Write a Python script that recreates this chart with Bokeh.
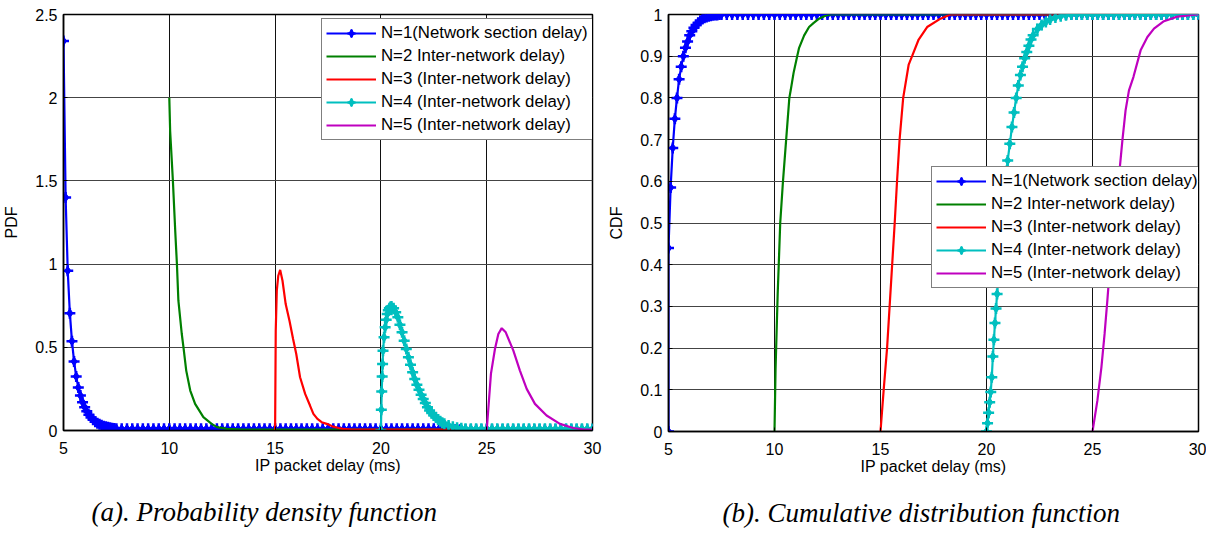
from bokeh.plotting import figure
from bokeh.models import (Legend, LegendItem, FixedTicker, CustomJSTickFormatter,
                          Title, Range1d)
from bokeh.layouts import row
from bokeh.embed import file_html
from bokeh.resources import INLINE

FONT = "Liberation Sans"
SERIF = "Liberation Serif"

# ---------------- data ----------------
x_ticks = [5, 10, 15, 20, 25, 30]
pdf_ticks = [0, 0.5, 1, 1.5, 2, 2.5]
cdf_ticks = [0, 0.1, 0.2, 0.3, 0.4, 0.5, 0.6, 0.7, 0.8, 0.9, 1]

labels = ["N=1(Network section delay)", "N=2 Inter-network delay)",
          "N=3 (Inter-network delay)", "N=4 (Inter-network delay)",
          "N=5 (Inter-network delay)"]

# N=1 : network section delay (sampled every 0.1 ms, then 0.25 ms)
n1_delay = [5.0, 5.1, 5.2, 5.3, 5.4, 5.5, 5.6, 5.7, 5.8, 5.9,
            6.0, 6.1, 6.2, 6.3, 6.4, 6.5, 6.6, 6.7, 6.8, 6.9,
            7.0, 7.1, 7.2, 7.3, 7.4, 7.5,
            7.75, 8.0, 8.25, 8.5, 8.75, 9.0, 9.25, 9.5, 9.75, 10.0,
            10.25, 10.5, 10.75, 11.0, 11.25, 11.5, 11.75, 12.0, 12.25, 12.5,
            12.75, 13.0, 13.25, 13.5, 13.75, 14.0, 14.25, 14.5, 14.75, 15.0,
            15.25, 15.5, 15.75, 16.0, 16.25, 16.5, 16.75, 17.0, 17.25, 17.5,
            17.75, 18.0, 18.25, 18.5, 18.75, 19.0, 19.25, 19.5, 19.75, 20.0,
            20.25, 20.5, 20.75, 21.0, 21.25, 21.5, 21.75, 22.0, 22.25, 22.5,
            22.75, 23.0, 23.25, 23.5, 23.75, 24.0, 24.25, 24.5, 24.75, 25.0,
            25.25, 25.5, 25.75, 26.0, 26.25, 26.5, 26.75, 27.0, 27.25, 27.5,
            27.75, 28.0, 28.25, 28.5, 28.75, 29.0, 29.25, 29.5, 29.75, 30.0]
n1_pdf = [2.34, 1.40, 0.96, 0.705, 0.537, 0.415, 0.325, 0.258, 0.21, 0.17,
          0.14, 0.115, 0.095, 0.078, 0.064, 0.053, 0.044, 0.037, 0.031, 0.026,
          0.022, 0.019, 0.016, 0.014, 0.012, 0.011,
          0.01, 0.01, 0.01, 0.01, 0.01, 0.01, 0.01, 0.01, 0.01, 0.01,
          0.01, 0.01, 0.01, 0.01, 0.01, 0.01, 0.01, 0.01, 0.01, 0.01,
          0.01, 0.01, 0.01, 0.01, 0.01, 0.01, 0.01, 0.01, 0.01, 0.01,
          0.01, 0.01, 0.01, 0.01, 0.01, 0.01, 0.01, 0.01, 0.01, 0.01,
          0.01, 0.01, 0.01, 0.01, 0.01, 0.01, 0.01, 0.01, 0.01, 0.01,
          0.01, 0.01, 0.01, 0.01, 0.01, 0.01, 0.01, 0.01, 0.01, 0.01,
          0.01, 0.01, 0.004, 0.004, 0.004, 0.004, 0.004, 0.004, 0.004, 0.004,
          0.004, 0.004, 0.004, 0.004, 0.004, 0.004, 0.004, 0.004, 0.004, 0.004,
          0.004, 0.004, 0.004, 0.004, 0.004, 0.004, 0.004, 0.004, 0.004, 0.004]
n1_cdf_delay = [5.0] + n1_delay
n1_cdf = [0.0,
          0.44, 0.585, 0.68, 0.75, 0.80, 0.845, 0.875, 0.90, 0.92, 0.935,
          0.95, 0.96, 0.968, 0.975, 0.98, 0.985, 0.989, 0.992, 0.994, 0.996,
          0.997, 0.998, 0.999, 0.999, 1.0, 1.0,
          1.0, 1.0, 1.0, 1.0, 1.0, 1.0, 1.0, 1.0, 1.0, 1.0,
          1.0, 1.0, 1.0, 1.0, 1.0, 1.0, 1.0, 1.0, 1.0, 1.0,
          1.0, 1.0, 1.0, 1.0, 1.0, 1.0, 1.0, 1.0, 1.0, 1.0,
          1.0, 1.0, 1.0, 1.0, 1.0, 1.0, 1.0, 1.0, 1.0, 1.0,
          1.0, 1.0, 1.0, 1.0, 1.0, 1.0, 1.0, 1.0, 1.0, 1.0,
          1.0, 1.0, 1.0, 1.0, 1.0, 1.0, 1.0, 1.0, 1.0, 1.0,
          1.0, 1.0, 1.0, 1.0, 1.0, 1.0, 1.0, 1.0, 1.0, 1.0,
          1.0, 1.0, 1.0, 1.0, 1.0, 1.0, 1.0, 1.0, 1.0, 1.0,
          1.0, 1.0, 1.0, 1.0, 1.0, 1.0, 1.0, 1.0, 1.0, 1.0]

# N=2
n2_pdf_delay = [10.0, 10.04, 10.17, 10.28, 10.36, 10.43, 10.59, 10.67, 10.8, 10.99,
                11.22, 11.61, 12.0, 12.25, 12.72, 13.5, 15.0, 20.0, 25.0, 30.0]
n2_pdf = [2.0, 1.80, 1.50, 1.20, 1.00, 0.78, 0.58, 0.50, 0.36, 0.24,
          0.16, 0.08, 0.04, 0.02, 0.01, 0.006, 0.005, 0.005, 0.005, 0.005]
n2_cdf_delay = [10.0, 10.05, 10.1, 10.15, 10.2, 10.27, 10.4, 10.55, 10.7, 10.77,
                10.9, 11.07, 11.16, 11.4, 11.63, 11.85, 12.1, 12.4, 12.63, 30.0]
n2_cdf = [0.0, 0.15, 0.24, 0.33, 0.40, 0.50, 0.60, 0.70, 0.80, 0.82,
          0.86, 0.90, 0.92, 0.95, 0.97, 0.98, 0.99, 0.997, 1.0, 1.0]

# N=3
n3_pdf_delay = [15.0, 15.03, 15.08, 15.15, 15.24, 15.35, 15.5, 15.68, 15.85, 16.0,
                16.18, 16.42, 16.65, 16.81, 17.0, 17.2, 17.44, 17.7, 18.0, 18.2,
                18.6, 19.0, 25.0, 30.0]
n3_pdf = [0.0, 0.60, 0.84, 0.93, 0.965, 0.90, 0.76, 0.66, 0.55, 0.46,
          0.32, 0.22, 0.15, 0.10, 0.07, 0.05, 0.04, 0.025, 0.015, 0.01,
          0.006, 0.005, 0.005, 0.005]
n3_cdf_delay = [15.0, 15.15, 15.31, 15.43, 15.55, 15.67, 15.78, 15.9, 16.07, 16.33,
                16.49, 16.8, 17.2, 17.83, 18.3, 30.0]
n3_cdf = [0.0, 0.1, 0.2, 0.3, 0.4, 0.5, 0.6, 0.7, 0.8, 0.88,
          0.90, 0.94, 0.97, 0.99, 1.0, 1.0]

# N=4
n4_pdf_delay = [20.0, 20.02, 20.04, 20.06, 20.08, 20.1, 20.15, 20.2, 20.25, 20.3,
                20.35, 20.4, 20.45, 20.5, 20.6, 20.7, 20.8, 20.9, 21.0, 21.1,
                21.2, 21.3, 21.4, 21.5, 21.6, 21.7, 21.8, 21.9, 22.0, 22.1,
                22.2, 22.3, 22.4, 22.5, 22.6, 22.7, 22.8, 22.9, 23.0, 23.2,
                23.4, 23.6, 23.8, 24.0,
                24.25, 24.5, 24.75, 25.0, 25.25, 25.5, 25.75, 26.0, 26.25, 26.5,
                26.75, 27.0, 27.25, 27.5, 27.75, 28.0, 28.25, 28.5, 28.75, 29.0,
                29.25, 29.5, 29.75, 30.0]
n4_pdf = [0.0, 0.125, 0.235, 0.325, 0.40, 0.48, 0.56, 0.62, 0.665, 0.70,
          0.722, 0.735, 0.742, 0.745, 0.735, 0.71, 0.68, 0.635, 0.59, 0.54,
          0.49, 0.44, 0.395, 0.35, 0.31, 0.275, 0.245, 0.215, 0.19, 0.165,
          0.14, 0.12, 0.105, 0.09, 0.078, 0.066, 0.056, 0.047, 0.04, 0.03,
          0.022, 0.017, 0.013, 0.011,
          0.01, 0.01, 0.01, 0.01, 0.01, 0.01, 0.01, 0.01, 0.01, 0.01,
          0.01, 0.01, 0.01, 0.01, 0.01, 0.01, 0.01, 0.01, 0.01, 0.01,
          0.01, 0.01, 0.01, 0.01]
n4_cdf_delay = [20.0, 20.05, 20.1, 20.15, 20.2, 20.25, 20.3, 20.35, 20.4, 20.45,
                20.5, 20.55, 20.6, 20.65, 20.7, 20.75, 20.8, 20.85, 20.9, 20.95,
                21.0, 21.1, 21.2, 21.3, 21.4, 21.5, 21.6, 21.7, 21.8, 21.9,
                22.0, 22.1, 22.2, 22.4, 22.6, 22.8, 23.0, 23.25, 23.5, 23.75,
                24.0,
                24.25, 24.5, 24.75, 25.0, 25.25, 25.5, 25.75, 26.0, 26.25, 26.5,
                26.75, 27.0, 27.25, 27.5, 27.75, 28.0, 28.25, 28.5, 28.75, 29.0,
                29.25, 29.5, 29.75, 30.0]
n4_cdf = [0.0, 0.02, 0.045, 0.07, 0.095, 0.13, 0.18, 0.22, 0.26, 0.295,
          0.33, 0.365, 0.40, 0.435, 0.47, 0.505, 0.54, 0.57, 0.60, 0.625,
          0.65, 0.69, 0.73, 0.765, 0.80, 0.83, 0.855, 0.875, 0.895, 0.91,
          0.925, 0.94, 0.95, 0.965, 0.975, 0.982, 0.988, 0.993, 0.996, 0.998,
          1.0,
          1.0, 1.0, 1.0, 1.0, 1.0, 1.0, 1.0, 1.0, 1.0, 1.0,
          1.0, 1.0, 1.0, 1.0, 1.0, 1.0, 1.0, 1.0, 1.0, 1.0,
          1.0, 1.0, 1.0, 1.0]

# N=5
n5_pdf_delay = [25.0, 25.2, 25.39, 25.55, 25.71, 25.9, 26.26, 26.57, 26.89, 27.28,
                27.83, 28.46, 29.09, 29.6, 30.0]
n5_pdf = [0.0, 0.34, 0.49, 0.58, 0.615, 0.59, 0.48, 0.36, 0.25, 0.16,
          0.09, 0.04, 0.015, 0.006, 0.005]
n5_cdf_delay = [25.0, 25.23, 25.42, 25.57, 25.7, 25.82, 25.95, 26.1, 26.29, 26.41,
                26.56, 26.72, 26.93, 27.27, 27.59, 27.9, 28.37, 29.0, 29.95, 30.0]
n5_cdf = [0.0, 0.074, 0.154, 0.234, 0.314, 0.394, 0.47, 0.55, 0.634, 0.698,
          0.77, 0.818, 0.85, 0.914, 0.946, 0.966, 0.984, 0.995, 1.0, 1.0]

colors = ["#0000FF", "#008000", "#FF0000", "#00BFBF", "#BF00BF"]
with_markers = [True, False, False, True, False]


def make_panel(ymax, yticks, ylabel, series, caption, cap_offset,
               border_left, fw, fh, border_right, legend_loc):
    p = figure(output_backend="svg", toolbar_location=None, title=None,
               x_range=Range1d(5, 30), y_range=Range1d(0, ymax),
               frame_width=fw, frame_height=fh,
               min_border_left=border_left, min_border_right=border_right,
               min_border_top=14, min_border_bottom=0,
               background_fill_color="white", border_fill_color="white")
    p.outline_line_color = "black"
    p.outline_line_width = 1.5
    p.outline_line_alpha = 1

    p.xaxis.ticker = FixedTicker(ticks=x_ticks)
    p.yaxis.ticker = FixedTicker(ticks=yticks)
    p.xaxis.formatter = CustomJSTickFormatter(code="return tick.toString();")
    p.yaxis.formatter = CustomJSTickFormatter(code="return tick.toString();")
    for ax in (p.xaxis[0], p.yaxis[0]):
        ax.axis_line_color = "black"
        ax.axis_line_width = 1.5
        ax.major_tick_in = 4
        ax.major_tick_out = 0
        ax.minor_tick_line_color = None
        ax.major_label_text_font = FONT
        ax.major_label_text_font_size = "16px"
        ax.major_label_text_color = "black"
        ax.axis_label_text_font = FONT
        ax.axis_label_text_font_size = "16px"
        ax.axis_label_text_font_style = "normal"
        ax.axis_label_text_color = "black"
    p.xaxis.axis_label = "IP packet delay (ms)"
    p.xaxis.major_label_standoff = 11
    p.xaxis.axis_label_standoff = 0
    p.yaxis.axis_label = ylabel
    p.yaxis.major_label_standoff = 6
    p.yaxis.axis_label_standoff = 12

    p.xgrid.grid_line_color = "#111111"
    p.ygrid.grid_line_color = "#444444"
    p.xgrid.grid_line_width = 1
    p.ygrid.grid_line_width = 1

    items = []
    for (xs, ys), col, mk, lab in zip(series, colors, with_markers, labels):
        rs = [p.line(xs, ys, line_color=col, line_width=2.2)]
        if mk:
            rs.append(p.scatter(xs, ys, marker="diamond", size=9,
                                fill_color=col, line_color=col))
            rs.append(p.scatter(xs, ys, marker="cross", size=11,
                                line_color=col, line_width=2.5))
        items.append(LegendItem(label=lab, renderers=rs))

    legend = Legend(items=items, location=legend_loc, margin=0,
                    border_line_color="black", border_line_width=1,
                    background_fill_color="white", background_fill_alpha=1,
                    label_text_font=FONT, label_text_font_size="16.8px",
                    label_text_color="black",
                    glyph_width=50, glyph_height=20, label_height=20,
                    spacing=3, padding=4, label_standoff=5)
    p.add_layout(legend)

    p.add_layout(Title(text=caption, align="left", offset=cap_offset,
                       standoff=37, text_font=SERIF, text_font_style="italic",
                       text_font_size="27px", text_color="black"), "below")
    return p


pdf_series = [(n1_delay, n1_pdf), (n2_pdf_delay, n2_pdf), (n3_pdf_delay, n3_pdf),
              (n4_pdf_delay, n4_pdf), (n5_pdf_delay, n5_pdf)]
cdf_series = [(n1_cdf_delay, n1_cdf), (n2_cdf_delay, n2_cdf), (n3_cdf_delay, n3_cdf),
              (n4_cdf_delay, n4_cdf), (n5_cdf_delay, n5_cdf)]

p1 = make_panel(2.5, pdf_ticks, "PDF", pdf_series,
                "(a). Probability density function", 28,
                63, 529, 416, 12, (258, 290))
p2 = make_panel(1, cdf_ticks, "CDF", cdf_series,
                "(b). Cumulative distribution function", 54,
                64, 530, 417, 8, (263, 143))

layout = row(p1, p2)
open("out.html", "w").write(file_html(layout, INLINE))
